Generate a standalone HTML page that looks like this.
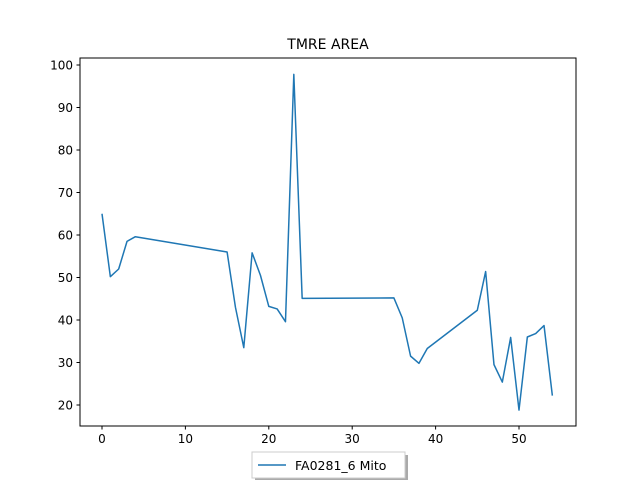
<!DOCTYPE html>
<html><head><meta charset="utf-8"><style>
body{margin:0;background:#fff;}
svg{font-family:"DejaVu Sans","Liberation Sans",sans-serif;}
</style></head><body>
<svg width="640" height="480" viewBox="0 0 640 480">
<rect width="640" height="480" fill="#fff"/>
<text x="328" y="49" text-anchor="middle" font-size="14">TMRE AREA</text>
<g id="ticks"></g>
<polyline id="line" fill="none" stroke="#1f77b4" stroke-width="1.5" stroke-linejoin="round"/>
<rect x="80" y="58" width="496" height="368" fill="none" stroke="#000" stroke-width="1"/>
<g>
<rect x="255" y="455" width="153" height="26" fill="#555" opacity="0.5"/>
<rect x="252" y="452" width="153" height="26" fill="#fff" stroke="#ccc" stroke-width="1"/>
<line x1="258" y1="465" x2="286" y2="465" stroke="#1f77b4" stroke-width="1.5"/>
<text x="295" y="470" font-size="12.5">FA0281_6 Mito</text>
</g>
</svg>
<script>
const xs=[0,1,2,3,4,15,16,17,18,19,20,21,22,23,24,35,36,37,38,39,45,46,47,48,49,50,51,52,53,54];
const ys=[65,50.2,52,58.5,59.6,56,43,33.5,55.8,50.5,43.2,42.6,39.6,97.8,45.1,45.2,40.5,31.5,29.8,33.3,42.3,51.4,29.5,25.4,35.9,18.8,36,36.8,38.7,22.2];
const xTicks=[0,10,20,30,40,50];
const yTicks=[20,30,40,50,60,70,80,90,100];
const X=v=>102+v*8.34, Y=v=>405-(v-20)*4.25;
const ns="http://www.w3.org/2000/svg";
document.getElementById('line').setAttribute('points',xs.map((x,i)=>X(x)+','+Y(ys[i])).join(' '));
const g=document.getElementById('ticks');
function mk(t,a){const e=document.createElementNS(ns,t);for(const k in a)e.setAttribute(k,a[k]);g.appendChild(e);return e;}
xTicks.forEach(v=>{
 const l=mk('line',{x1:X(v),x2:X(v),y1:426,y2:429.5,stroke:'#000'});
 
 
 const t=mk('text',{x:X(v),y:443,'text-anchor':'middle','font-size':'12'});t.textContent=v;
 
 
});
yTicks.forEach(v=>{
 const l=mk('line',{x1:76.5,x2:80,y1:Y(v),y2:Y(v),stroke:'#000'});
 
 
 const t=mk('text',{x:73,y:Y(v)+4.5,'text-anchor':'end','font-size':'12'});t.textContent=v;
 
 
});
</script>
</body></html>
